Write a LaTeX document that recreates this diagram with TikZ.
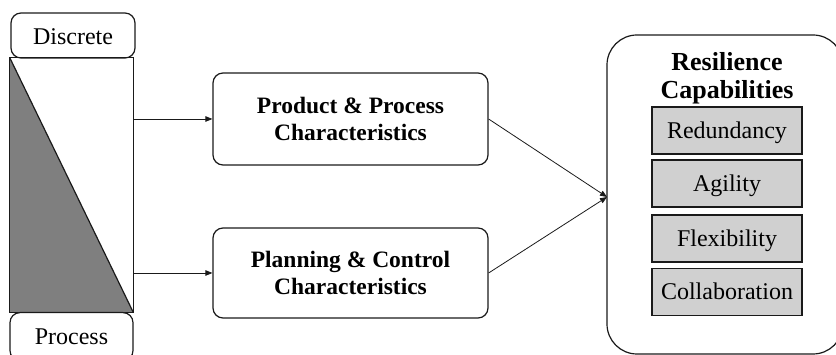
\documentclass[tikz,border=0pt]{standalone}
\usepackage{fontspec}
\setmainfont{Liberation Serif}
\usetikzlibrary{arrows.meta}
\definecolor{trigray}{HTML}{7F7F7F}
\definecolor{capgray}{HTML}{D0D0D0}
\definecolor{ink}{HTML}{1A1A1A}
\begin{document}
\begin{tikzpicture}[x=1pt,y=-1pt,
  box/.style={draw=ink, line width=1.2pt, rounded corners=10pt, inner sep=0pt, align=center},
  reg/.style={font=\fontsize{24}{28}\selectfont},
  bld/.style={font=\fontsize{23.5}{27}\selectfont\bfseries},
  capbox/.style={draw=ink, line width=1.2pt, fill=capgray, minimum width=150pt, minimum height=47pt, inner sep=0pt, text height=16pt, text depth=0pt, font=\fontsize{24}{28}\selectfont},
  conn/.style={draw=ink, line width=0.8pt, -{Triangle[length=7pt,width=5.5pt]}}]
\useasboundingbox (0,0) rectangle (836,355);
\clip (0,0) rectangle (836,355);
% left spectrum
\node[box, reg, minimum width=124pt, minimum height=45pt, text height=18pt, text depth=0pt] (disc) at (73,35.5) {Discrete};
\path node[minimum width=123pt, minimum height=254pt, inner sep=0pt] (spec) at (71.5,185) {};
\fill[trigray] (spec.north west) -- (spec.south west) -- (spec.south east) -- cycle;
\draw[ink, line width=1.2pt] (spec.north west) rectangle (spec.south east);
\draw[ink, line width=1.2pt] (spec.north west) -- (spec.south east);
\node[box, reg, minimum width=123pt, minimum height=48pt, anchor=north, fill=white] (proc) at (71.5,312) {Process};
% middle boxes
\node[box, bld, minimum width=275pt, minimum height=92pt] (prod) at (350.5,119) {Product \& Process\\Characteristics};
\node[box, bld, minimum width=275pt, minimum height=90pt] (plan) at (350.5,273) {Planning \& Control\\Characteristics};
% resilience
\node[draw=ink, line width=1.2pt, rounded corners=30pt, minimum width=236pt, minimum height=319pt, inner sep=0pt] (res) at (725,194.5) {};
\node[font=\fontsize{26}{28}\selectfont\bfseries, align=center, inner sep=0pt] (title) at (727,78) {Resilience\\Capabilities};
\node[capbox] (red) at (727,130.5) {Redundancy};
\node[capbox] (agi) at (727,183.5) {Agility};
\node[capbox] (fle) at (727,238.5) {Flexibility};
\node[capbox] (col) at (727,292) {Collaboration};
% connectors
\coordinate (tip) at (607,197);
\draw[conn] (spec.east |- prod.west) -- (prod.west);
\draw[conn] (spec.east |- plan.west) -- (plan.west);
\draw[conn] (prod.east) -- (tip);
\draw[conn] (plan.east) -- (tip);
\end{tikzpicture}
\end{document}
